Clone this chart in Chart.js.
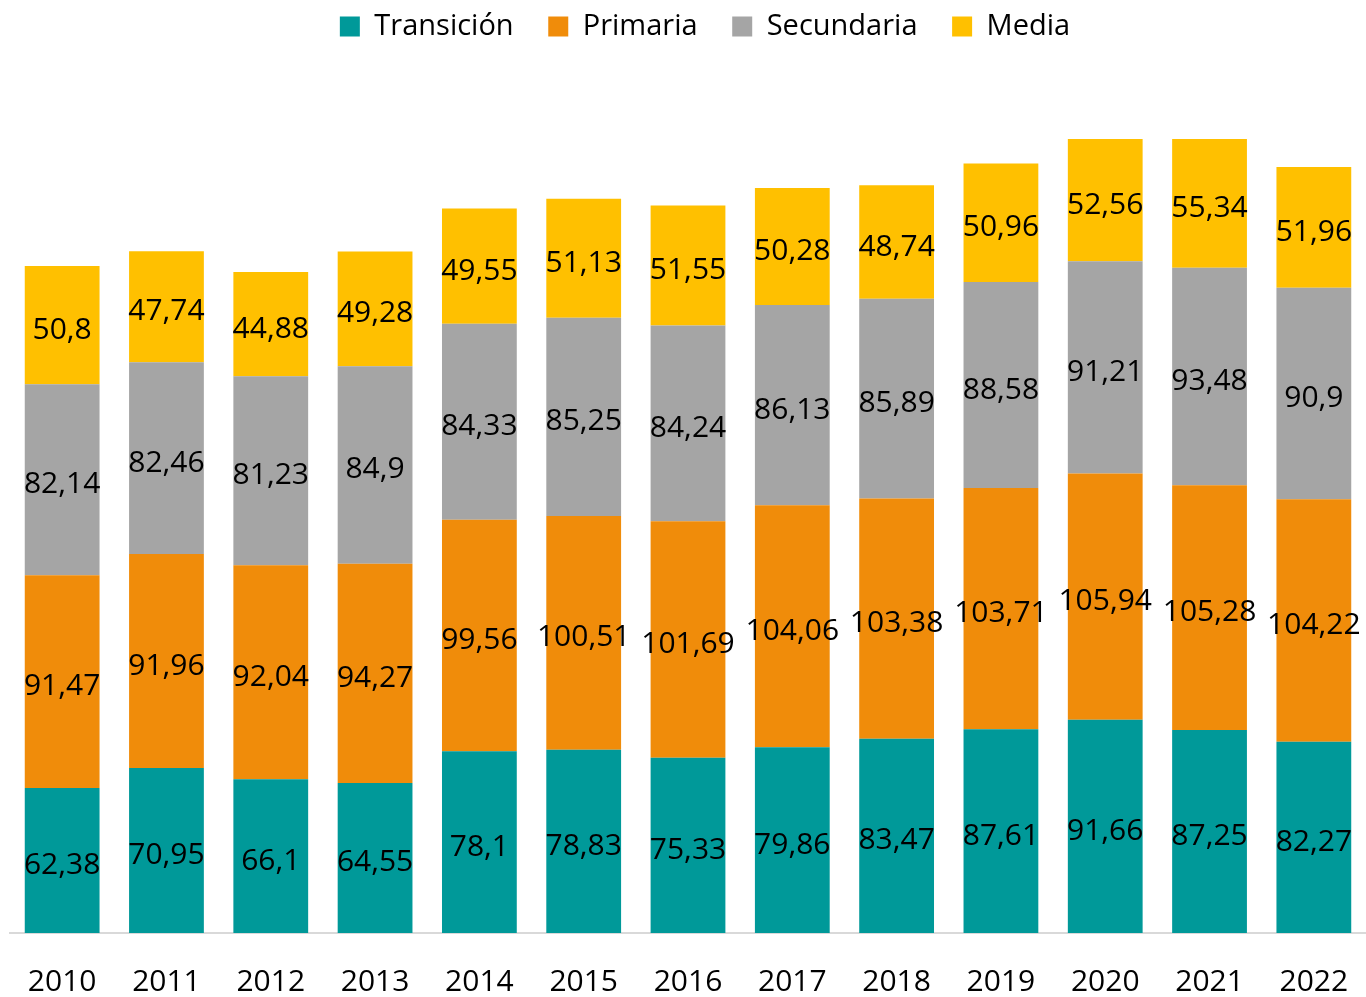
<!DOCTYPE html>
<html>
<head>
<meta charset="utf-8">
<script src="https://cdn.jsdelivr.net/npm/chart.js@4/dist/chart.umd.min.js"></script>
<style>
html,body{margin:0;padding:0;background:#fff;}
#wrap{width:1366px;height:997px;position:relative;}
</style>
</head>
<body>
<div id="wrap"><canvas id="c" width="1366" height="997"></canvas></div>
<script>
const years = ['2010','2011','2012','2013','2014','2015','2016','2017','2018','2019','2020','2021','2022'];
const transicion = [62.38,70.95,66.1,64.55,78.1,78.83,75.33,79.86,83.47,87.61,91.66,87.25,82.27];
const primaria = [91.47,91.96,92.04,94.27,99.56,100.51,101.69,104.06,103.38,103.71,105.94,105.28,104.22];
const secundaria = [82.14,82.46,81.23,84.9,84.33,85.25,84.24,86.13,85.89,88.58,91.21,93.48,90.9];
const media = [50.8,47.74,44.88,49.28,49.55,51.13,51.55,50.28,48.74,50.96,52.56,55.34,51.96];
const seriesNames = ['Transición','Primaria','Secundaria','Media'];
const colors = ['#009999','#F08C0A','#A5A5A5','#FFC000'];

const FONT = '"Open Sans", "Noto Sans", sans-serif';

const labelPlugin = {
  id: 'segLabels',
  afterDatasetsDraw(chart) {
    const ctx = chart.ctx;
    ctx.save();
    ctx.font = '30px ' + FONT;
    ctx.fillStyle = '#000';
    ctx.textAlign = 'center';
    ctx.textBaseline = 'middle';
    chart.data.datasets.forEach((ds, i) => {
      const meta = chart.getDatasetMeta(i);
      meta.data.forEach((bar, j) => {
        const v = ds.data[j];
        const cy = (bar.y + bar.base) / 2 + 5;
        ctx.fillText(String(v).replace('.', ','), bar.x, cy);
      });
    });
    ctx.restore();
  }
};

const legendTweak = {
  id: 'legendTweak',
  beforeInit(chart) {
    const lg = chart.legend;
    const origFit = lg.fit;
    lg.fit = function() {
      origFit.call(this);
      this.height = 119;
    };
    const origDraw = lg.draw;
    lg.draw = function() {
      const ctx = this.ctx;
      ctx.save();
      ctx.translate(13, 0);
      origDraw.call(this);
      ctx.restore();
    };
  }
};

new Chart(document.getElementById('c'), {
  type: 'bar',
  data: {
    labels: years,
    datasets: [
      {label: seriesNames[0], data: transicion, backgroundColor: colors[0]},
      {label: seriesNames[1], data: primaria, backgroundColor: colors[1]},
      {label: seriesNames[2], data: secundaria, backgroundColor: colors[2]},
      {label: seriesNames[3], data: media, backgroundColor: colors[3]}
    ]
  },
  options: {
    responsive: false,
    animation: false,
    layout: {padding: {left: 10, right: -8, top: 0, bottom: 0}},
    datasets: {bar: {categoryPercentage: 1, barPercentage: 0.717}},
    plugins: {
      legend: {
        position: 'top',
        labels: {
          boxWidth: 20, boxHeight: 20, padding: 12,
          color: '#000',
          font: {family: FONT, size: 29},
          generateLabels(chart) {
            const items = Chart.defaults.plugins.legend.labels.generateLabels(chart);
            items.forEach((it, i) => { if (i < items.length - 1) it.text = it.text + '   '; });
            return items;
          }
        }
      },
      tooltip: {enabled: false}
    },
    scales: {
      x: {
        stacked: true,
        grid: {display: false, drawTicks: false},
        border: {display: true, color: '#D9D9D9', width: 2},
        ticks: {color: '#000', font: {family: FONT, size: 30}, padding: 31},
        afterFit(scale) {
          scale.paddingLeft = 0;
          scale.paddingRight = 0;
          scale.height = 64;
        }
      },
      y: {
        stacked: true,
        display: false,
        min: 0, max: 350
      }
    }
  },
  plugins: [labelPlugin, legendTweak]
});
</script>
</body>
</html>
